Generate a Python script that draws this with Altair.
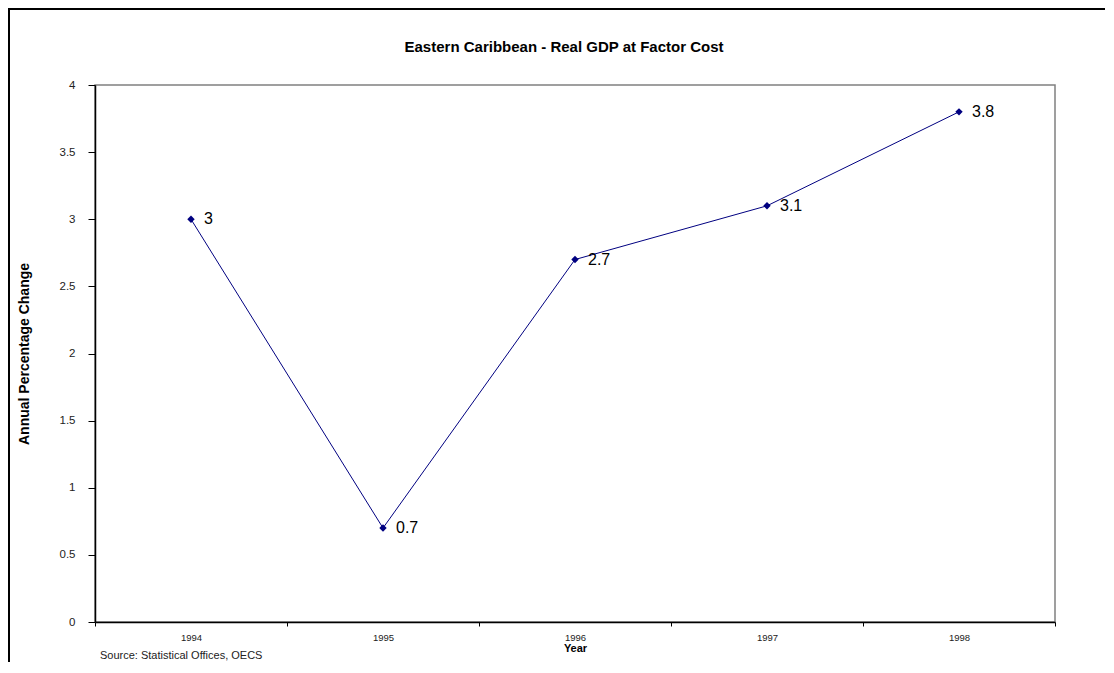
import altair as alt
import pandas as pd

years = ["1994", "1995", "1996", "1997", "1998"]
growth = [3.0, 0.7, 2.7, 3.1, 3.8]
labels = ["3", "0.7", "2.7", "3.1", "3.8"]
y_ticks = [0, 0.5, 1, 1.5, 2, 2.5, 3, 3.5, 4]
title_text = "Eastern Caribbean - Real GDP at Factor Cost"
source_text = "Source: Statistical Offices, OECS"

df = pd.DataFrame({"Year": years, "Value": growth, "Label": labels})

FONT = "Liberation Sans"
NAVY = "#000080"

x_enc = alt.X(
    "Year:O",
    scale=alt.Scale(type="band", paddingInner=0, paddingOuter=0),
    axis=alt.Axis(
        title="Year",
        labelAngle=0,
        tickBand="extent",
        tickSize=4,
        labelPadding=6,
        labelFontSize=9.5,
        labelColor="#222222",
        titleFontSize=11,
        titleFontWeight="bold",
        titlePadding=1,
        domainColor="black",
        domainWidth=1.5,
        tickColor="black",
        grid=False,
    ),
)
y_enc = alt.Y(
    "Value:Q",
    scale=alt.Scale(domain=[0, 4], nice=False),
    axis=alt.Axis(
        title="Annual Percentage Change",
        values=y_ticks,
        format="~g",
        tickSize=7,
        labelPadding=13,
        labelFontSize=11.5,
        labelColor="#222222",
        titleFontSize=14,
        titleFontWeight="bold",
        titlePadding=28,
        domainColor="black",
        domainWidth=1.5,
        tickColor="black",
        grid=False,
    ),
)

base = alt.Chart(df)

line = base.mark_line(color=NAVY, strokeWidth=1).encode(x=x_enc, y=y_enc)
points = base.mark_point(shape="diamond", filled=True, color=NAVY, size=55, opacity=1).encode(
    x="Year:O", y="Value:Q"
)
text = base.mark_text(align="left", baseline="middle", dx=13, fontSize=16, font=FONT, color="black").encode(
    x="Year:O", y="Value:Q", text="Label:N"
)

one = pd.DataFrame({"t": [source_text], "h": [title_text]})
source = alt.Chart(one).mark_text(
    align="left", baseline="middle", fontSize=11, font=FONT, color="#222222"
).encode(x=alt.value(5), y=alt.value(571), text="t:N")

title = alt.Chart(one).mark_text(
    align="center", baseline="middle", fontSize=15, fontWeight="bold", font=FONT, color="black"
).encode(x=alt.value(469), y=alt.value(-38), text="h:N")

frame = alt.Chart(one).mark_rect(
    fillOpacity=0, stroke="black", strokeWidth=2
).encode(x=alt.value(-86), x2=alt.value(1200), y=alt.value(-76), y2=alt.value(800))

chart = (
    alt.layer(frame, line, points, text, source, title)
    .properties(
        width=960,
        height=537,
        autosize=alt.AutoSizeParams(type="none"),
        padding={"left": 87, "top": 77, "right": 50, "bottom": 40},
    )
    .configure(font=FONT)
    .configure_axis(labelFont=FONT, titleFont=FONT, titleColor="black")
    .configure_view(stroke="#808080", strokeWidth=1.5)
)

chart.save("out.html", embed_options={"renderer": "svg", "actions": False})
